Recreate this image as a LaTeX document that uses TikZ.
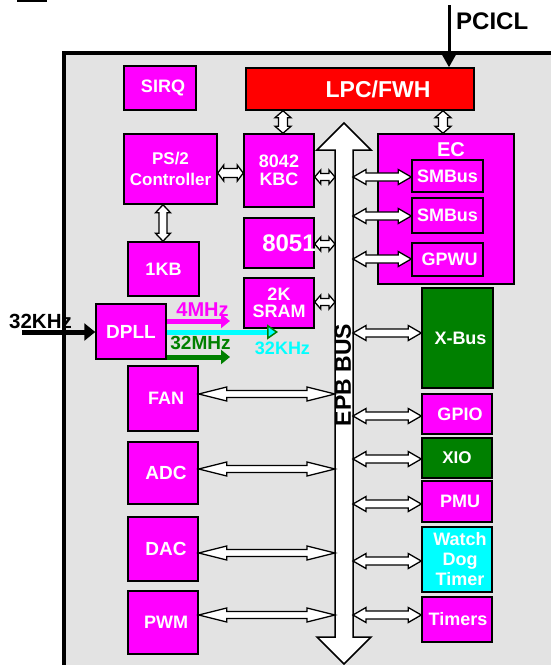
\documentclass[tikz,border=0pt]{standalone}
\usepackage{fontspec}
\setmainfont{Liberation Sans}
\usetikzlibrary{calc,arrows.meta}
\definecolor{mag}{HTML}{FF00FF}
\definecolor{bg}{HTML}{E3E3E3}
\definecolor{dgreen}{HTML}{008000}
\definecolor{cy}{HTML}{00FFFF}
\definecolor{rd}{HTML}{FF0000}
\newcommand\fsz[1]{\fontsize{#1}{#1}\selectfont}
\tikzset{
  blk/.style={draw=black, line width=1.5pt, fill=mag, text=white, inner sep=0pt, align=center,
    font=\bfseries\fsz{18}},
  sz/.style 2 args={minimum width=#1pt, minimum height=#2pt},
  lbl/.style={inner sep=0pt, font=\bfseries\fsz{18}},
  dblarr/.style n args={3}{draw=black, line width=1.3pt, fill=white, line join=miter,
    to path={
      (\tikztostart)
      -- ($(\tikztostart)!#1!(\tikztotarget)!#2!90:(\tikztotarget)$)
      -- ($(\tikztostart)!#1!(\tikztotarget)!#3!90:(\tikztotarget)$)
      -- ($(\tikztotarget)!#1!(\tikztostart)!#3!-90:(\tikztostart)$)
      -- ($(\tikztotarget)!#1!(\tikztostart)!#2!-90:(\tikztostart)$)
      -- (\tikztotarget)
      -- ($(\tikztotarget)!#1!(\tikztostart)!#2!90:(\tikztostart)$)
      -- ($(\tikztotarget)!#1!(\tikztostart)!#3!90:(\tikztostart)$)
      -- ($(\tikztostart)!#1!(\tikztotarget)!#3!-90:(\tikztotarget)$)
      -- ($(\tikztostart)!#1!(\tikztotarget)!#2!-90:(\tikztotarget)$)
      -- cycle}},
  bigar/.style={dblarr={28pt}{7pt}{3.5pt}},
  midar/.style={dblarr={13pt}{7.5pt}{4pt}},
  smallar/.style={dblarr={6pt}{7pt}{3.5pt}},
  vertar/.style={dblarr={7pt}{8pt}{4.5pt}},
  clk/.style={line width=5pt},
}
\begin{document}
\begin{tikzpicture}[x=1pt,y=-1pt]
\useasboundingbox (0,0) rectangle (551,665);
\fill[white] (0,0) rectangle (551,665);
% fragment at top left
\draw[line width=1.5pt] (17,1) -- (47,1);
% outer chip frame
\draw[line width=3.5pt, fill=bg] (64,53) rectangle (620,720);

% EPB bus
\coordinate (bustop) at (344,123);
\coordinate (busbot) at (344,664);
\coordinate (busL) at (335,0);
\coordinate (busR) at (353,0);
\draw[dblarr={27pt}{27pt}{9pt}, line width=1.5pt] (bustop) to (busbot);
\node[lbl, font=\bfseries\fsz{23}, rotate=90] (epb) at (343,375) {EPB BUS};

% blocks
\node[blk, sz={72}{44}] (sirq) at (160,88) {\makebox[0pt]{\hspace*{6pt}SIRQ}};
\node[blk, sz={228}{42}, fill=rd, font=\bfseries\fsz{23}] (lpc) at (360,89) {\makebox[0pt]{\hspace*{36pt}LPC/FWH}};
\node[blk, sz={93}{70}, font=\bfseries\fontsize{17}{21}\selectfont] (ps2) at (170.5,169) {PS/2\\Controller};
\node[blk, sz={70}{73}, font=\bfseries\fontsize{18}{18}\selectfont] (k8042) at (279,170.5) {8042\\KBC};
\node[blk, sz={70}{50}, font=\bfseries\fsz{24}] (k8051) at (279,243) {\makebox[0pt]{\hspace*{20pt}8051}};
\node[blk, sz={70}{50}, font=\bfseries\fontsize{18}{17}\selectfont] (sram) at (279,303) {2K\\SRAM};
\node[blk, sz={71}{54}] (kb1) at (163.5,269) {1KB};
\node[blk, sz={70}{55}, font=\bfseries\fsz{19}] (dpll) at (131,331.5) {DPLL};
\node[blk, sz={70}{65}] (fan) at (163,398.5) {\makebox[0pt]{\hspace*{6pt}FAN}};
\node[blk, sz={70}{62}, font=\bfseries\fsz{19}] (adc) at (163,473) {\makebox[0pt]{\hspace*{6pt}ADC}};
\node[blk, sz={70}{64}, font=\bfseries\fsz{19}] (dac) at (163,549) {\makebox[0pt]{\hspace*{6pt}DAC}};
\node[blk, sz={70}{63}] (pwm) at (163,622.5) {\makebox[0pt]{\hspace*{6pt}PWM}};

\node[blk, sz={136}{150}] (ec) at (446,209) {};
\node[lbl, text=white, font=\bfseries\fsz{20}] (eclbl) at (451,150) {EC};
\node[blk, sz={71}{32}] (sm1) at (447.5,176) {SMBus};
\node[blk, sz={71}{35}] (sm2) at (447.5,215.5) {SMBus};
\node[blk, sz={71}{33}] (gpwu) at (447.5,259.5) {\makebox[0pt]{\hspace*{4pt}GPWU}};

\node[blk, sz={71}{100}, fill=dgreen] (xbus) at (457.5,338) {\makebox[0pt]{\hspace*{6pt}X-Bus}};
\node[blk, sz={70}{40}] (gpio) at (457,414) {\makebox[0pt]{\hspace*{6pt}GPIO}};
\node[blk, sz={70}{40}, fill=dgreen, font=\bfseries\fsz{17}] (xio) at (457,458) {XIO};
\node[blk, sz={70}{41}] (pmu) at (457,501.5) {\makebox[0pt]{\hspace*{6pt}PMU}};
\node[blk, sz={70}{65}, fill=cy, font=\bfseries\fontsize{18}{20}\selectfont] (wdt) at (457,559.5) {\makebox[0pt]{\hspace*{6pt}Watch}\\\makebox[0pt]{\hspace*{6pt}Dog}\\\makebox[0pt]{\hspace*{6pt}Timer}};
\node[blk, sz={70}{45}] (tim) at (457,619.5) {\makebox[0pt]{\hspace*{2pt}Timers}};

% row / column coordinates for connectors
\coordinate (rps) at (0,173);
\coordinate (r8042) at (0,177);
\coordinate (r8051) at (0,244);
\coordinate (rsram) at (0,302);
\coordinate (rsm1) at (0,177);
\coordinate (rsm2) at (0,216);
\coordinate (rgpwu) at (0,259);
\coordinate (rxbus) at (0,333);
\coordinate (rgpio) at (0,416);
\coordinate (rxio) at (0,459);
\coordinate (rpmu) at (0,504);
\coordinate (rwdt) at (0,561);
\coordinate (rtim) at (0,615);
\coordinate (rfan) at (0,394);
\coordinate (radc) at (0,469);
\coordinate (rdac) at (0,553);
\coordinate (rpwm) at (0,615);
\coordinate (cA) at (283,0);
\coordinate (cB) at (443,0);
\coordinate (cC) at (163,0);

% vertical connectors
\draw[vertar] (cA |- lpc.south) to (cA |- k8042.north);
\draw[vertar] (cB |- lpc.south) to (cB |- ec.north);
\draw[dblarr={8pt}{7.5pt}{4pt}] (cC |- ps2.south) to (cC |- kb1.north);
% PS/2 - 8042
\draw[dblarr={6pt}{8pt}{4.5pt}] (ps2.east |- rps) to (k8042.west |- rps);
% middle column to bus
\draw[smallar] (k8042.east |- r8042) to (busL |- r8042);
\draw[smallar] (k8051.east |- r8051) to (busL |- r8051);
\draw[smallar] (sram.east |- rsram) to (busL |- rsram);
% bus to EC
\draw[midar] (busR |- rsm1) to (sm1.west |- rsm1);
\draw[midar] (busR |- rsm2) to (sm2.west |- rsm2);
\draw[midar] (busR |- rgpwu) to (gpwu.west |- rgpwu);
% bus to right column
\draw[midar] (busR |- rxbus) to (xbus.west |- rxbus);
\draw[midar] (busR |- rgpio) to (gpio.west |- rgpio);
\draw[midar] (busR |- rxio) to (xio.west |- rxio);
\draw[midar] (busR |- rpmu) to (pmu.west |- rpmu);
\draw[midar] (busR |- rwdt) to (wdt.west |- rwdt);
\draw[midar] (busR |- rtim) to (tim.west |- rtim);
% left column to bus
\draw[bigar] (fan.east |- rfan) to (busL |- rfan);
\draw[bigar] (adc.east |- radc) to (busL |- radc);
\draw[bigar] (dac.east |- rdac) to (busL |- rdac);
\draw[bigar] (pwm.east |- rpwm) to (busL |- rpwm);

% PCICL input
\coordinate (pcitop) at (449,5);
\draw[line width=3pt, -{Triangle[length=16pt, width=17pt]}] (pcitop) -- (pcitop |- lpc.north);
\node[lbl, anchor=west, font=\bfseries\fsz{24}] (pcicl) at (456,21) {PCICL};

% clocks
\coordinate (in32) at (22,332);
\draw[clk, -{Triangle[length=11pt, width=17pt]}] (in32) -- (in32 -| dpll.west);
\node[lbl, anchor=west, font=\bfseries\fsz{20.5}] (t32in) at (9,321) {32KHz};

\coordinate (r4) at (230,321);
\coordinate (r32k) at (278,332);
\coordinate (r32m) at (230,357);
\draw[clk, mag, -{Triangle[length=9pt, width=14pt]}] (dpll.east |- r4) -- (r4);
\draw[clk, cy, -{Triangle[length=11pt, width=15pt, fill=cy, color=dgreen, line width=1.5pt]}] (dpll.east |- r32k) -- (r32k);
\draw[clk, dgreen, -{Triangle[length=9pt, width=14pt]}] (dpll.east |- r32m) -- (r32m);
\node[lbl, text=mag, font=\bfseries\fsz{20}] (t4) at (202.5,309.5) {4MHz};
\node[lbl, text=dgreen, font=\bfseries\fsz{19}] (t32m) at (200.5,342.5) {32MHz};
\node[lbl, text=cy, font=\bfseries\fsz{18}] (t32k) at (282.5,348) {32KHz};
\end{tikzpicture}
\end{document}
